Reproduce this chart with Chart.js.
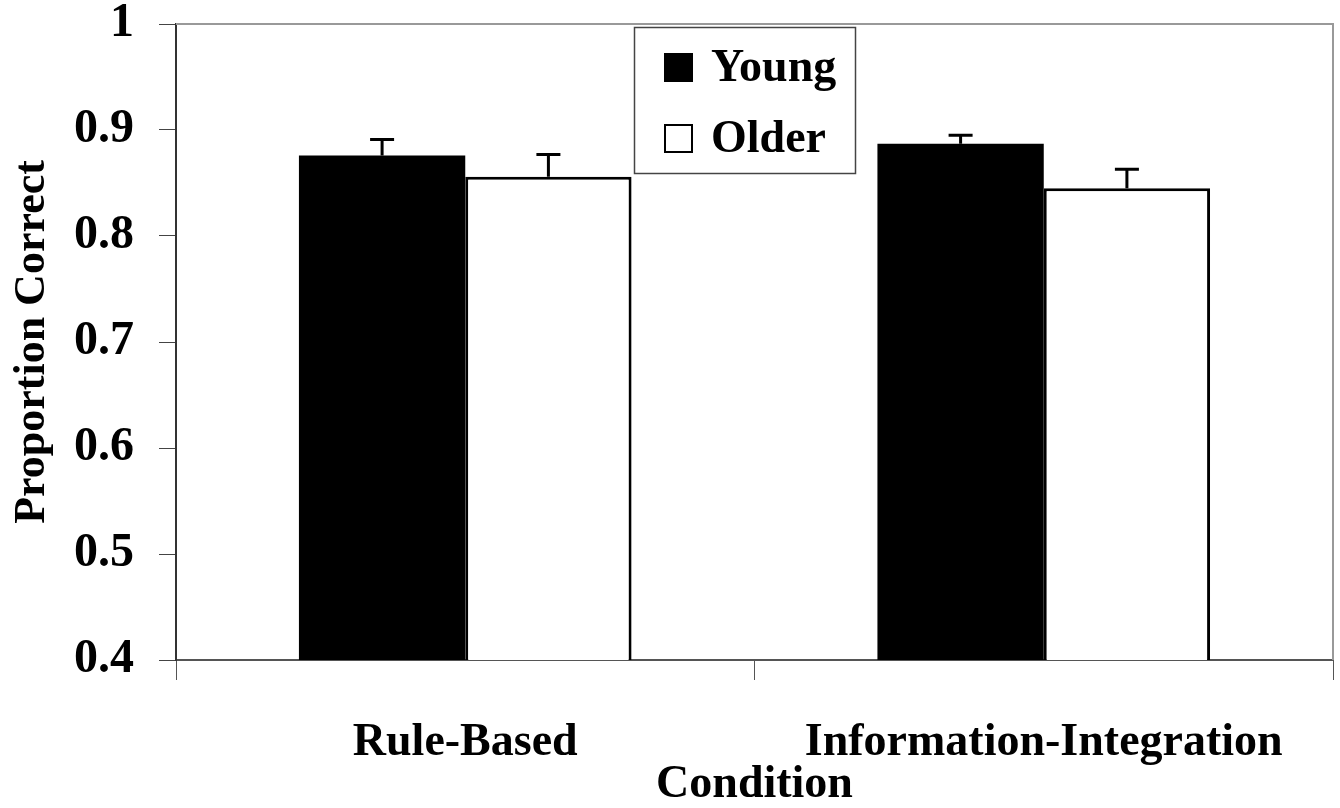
<!DOCTYPE html>
<html>
<head>
<meta charset="utf-8">
<script src="https://cdn.jsdelivr.net/npm/chart.js@4/dist/chart.umd.min.js"></script>
<style>
  html, body { margin: 0; padding: 0; background: #fff; }
  #wrap { width: 1340px; height: 808px; }
</style>
</head>
<body>
<div id="wrap"><canvas id="myChart" width="1340" height="808"></canvas></div>
<script>
const conditions = ["Rule-Based", "Information-Integration"];
const youngValues = [0.876, 0.887];
const youngErrors = [0.015, 0.008];
const olderValues = [0.856, 0.845];
const olderErrors = [0.021, 0.018];
const yTicks = [0.4, 0.5, 0.6, 0.7, 0.8, 0.9, 1];

const serif = "'Liberation Serif', 'Times New Roman', serif";

// upper error whiskers only
const errorBars = {
  id: "errorBars",
  afterDatasetsDraw(chart) {
    const ctx = chart.ctx;
    const y = chart.scales.y;
    ctx.save();
    ctx.strokeStyle = "#000";
    ctx.lineWidth = 3;
    chart.data.datasets.forEach((ds, i) => {
      const meta = chart.getDatasetMeta(i);
      meta.data.forEach((bar, j) => {
        const top = y.getPixelForValue(ds.data[j] + ds.errors[j]);
        ctx.beginPath();
        ctx.moveTo(bar.x, bar.y);
        ctx.lineTo(bar.x, top);
        ctx.moveTo(bar.x - 12, top);
        ctx.lineTo(bar.x + 12, top);
        ctx.stroke();
      });
    });
    ctx.restore();
  },
};

// gray frame on top and right of plot area
const frame = {
  id: "frame",
  beforeDatasetsDraw(chart) {
    const { ctx, chartArea } = chart;
    ctx.save();
    ctx.strokeStyle = "#999";
    ctx.lineWidth = 2;
    ctx.beginPath();
    ctx.moveTo(chartArea.left, chartArea.top);
    ctx.lineTo(chartArea.right, chartArea.top);
    ctx.lineTo(chartArea.right, chartArea.bottom);
    ctx.stroke();
    ctx.restore();
  },
};

// boxed legend inside the plot
const boxLegend = {
  id: "boxLegend",
  afterDraw(chart) {
    const ctx = chart.ctx;
    ctx.save();
    ctx.fillStyle = "#fff";
    ctx.fillRect(634, 27, 221, 146);
    ctx.strokeStyle = "#444";
    ctx.lineWidth = 1.5;
    ctx.strokeRect(634.5, 27.5, 221, 146);
    ctx.font = "bold 46px " + serif;
    ctx.textBaseline = "middle";
    chart.data.datasets.forEach((ds, i) => {
      const cy = 67 + i * 71;
      ctx.fillStyle = ds.backgroundColor;
      ctx.fillRect(664, cy - 14, 29, 29);
      ctx.strokeStyle = "#000";
      ctx.lineWidth = 2;
      ctx.strokeRect(665, cy - 13, 27, 27);
      ctx.fillStyle = "#000";
      ctx.fillText(ds.label, 711, cy + 2);
    });
    ctx.restore();
  },
};

const ctx = document.getElementById("myChart");
new Chart(ctx, {
  type: "bar",
  data: {
    labels: conditions,
    datasets: [
      {
        label: "Young",
        data: youngValues,
        errors: youngErrors,
        backgroundColor: "#000",
        borderColor: "#000",
        borderWidth: 0,
        borderSkipped: false,
      },
      {
        label: "Older",
        data: olderValues,
        errors: olderErrors,
        backgroundColor: "#fff",
        borderColor: "#000",
        borderWidth: 3,
        borderSkipped: false,
      },
    ],
  },
  options: {
    responsive: false,
    animation: false,
    categoryPercentage: 0.575,
    barPercentage: 1.0,
    layout: {
      padding: { top: 24, right: 7, left: 0, bottom: 0 },
    },
    plugins: {
      legend: { display: false },
      tooltip: { enabled: false },
    },
    scales: {
      x: {
        grid: {
          offset: true,
          drawOnChartArea: false,
          tickLength: 20,
          color: "#555",
        },
        border: { color: "#555", width: 2 },
        ticks: {
          color: "#000",
          padding: 36,
          font: { family: serif, size: 46, weight: "bold" },
        },
        title: {
          display: true,
          text: "Condition",
          color: "#000",
          padding: 0,
          font: { family: serif, size: 46, weight: "bold", lineHeight: 1.0 },
        },
        afterFit(scale) {
          scale.height = 148;
        },
      },
      y: {
        min: 0.4,
        max: 1,
        afterBuildTicks(scale) {
          scale.ticks = yTicks.map((v) => ({ value: v }));
        },
        grid: {
          drawOnChartArea: false,
          tickLength: 17,
          color: "#444",
        },
        border: { color: "#333", width: 2 },
        ticks: {
          color: "#000",
          padding: 25,
          font: { family: serif, size: 48, weight: "bold", lineHeight: 1.0 },
          callback: (v) => String(Math.round(v * 10) / 10),
        },
        title: {
          display: true,
          text: "Proportion Correct",
          color: "#000",
          padding: { top: 6, bottom: 0 },
          font: { family: serif, size: 44, weight: "bold" },
        },
        afterFit(scale) {
          scale.width = 176;
          scale.paddingTop = 0;
          scale.paddingBottom = 0;
        },
      },
    },
  },
  plugins: [frame, errorBars, boxLegend],
});
</script>
</body>
</html>
